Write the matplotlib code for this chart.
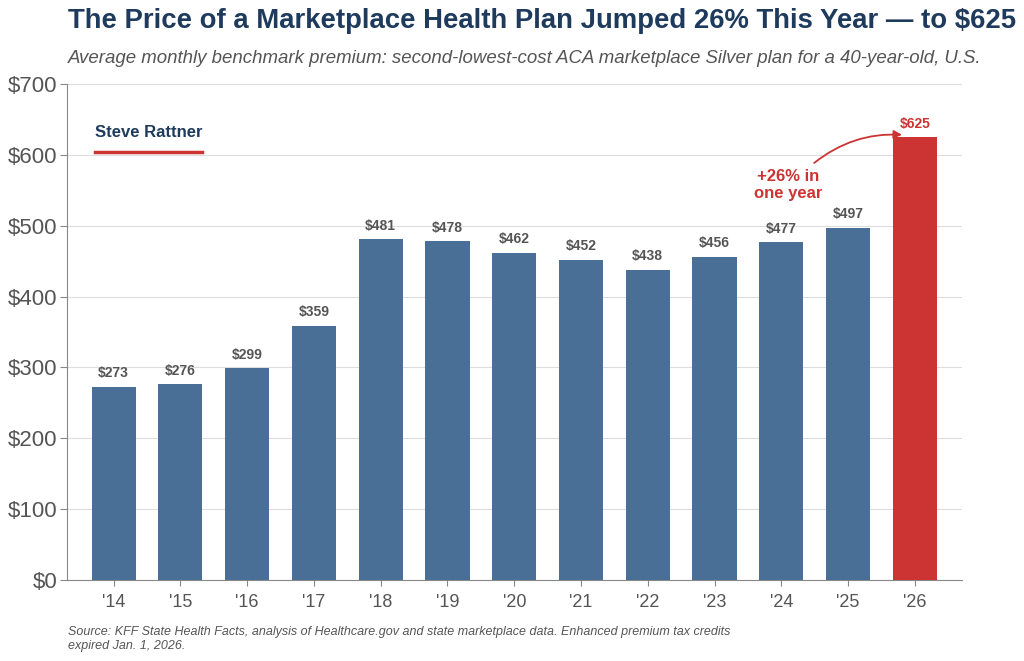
import matplotlib.pyplot as plt

plt.rcParams['font.family'] = ['Liberation Sans', 'DejaVu Sans']

years = ["'14", "'15", "'16", "'17", "'18", "'19", "'20", "'21", "'22", "'23", "'24", "'25", "'26"]
premiums = [273, 276, 299, 359, 481, 478, 462, 452, 438, 456, 477, 497, 625]

NAVY = '#1e3a5c'
BLUE = '#4a6f96'
RED = '#cc3333'
GRAY = '#555555'

fig = plt.figure(figsize=(10.24, 6.61), dpi=100)
ax = fig.add_axes([0.0654, 0.1225, 0.8736, 0.7505])

x = list(range(len(years)))
colors = [BLUE] * (len(years) - 1) + [RED]
ax.bar(x, premiums, width=0.66, color=colors, zorder=3)

for i, v in enumerate(premiums):
    c = RED if i == len(premiums) - 1 else GRAY
    ax.text(i, v + 9, f'${v}', ha='center', va='bottom', fontsize=10,
            fontweight='bold', color=c, zorder=4)

ax.set_xlim(-0.7, 12.7)
ax.set_ylim(0, 700)
ax.set_yticks(range(0, 701, 100))
ax.set_yticklabels([f'${t}' for t in range(0, 701, 100)], fontsize=16, color=GRAY)
ax.set_xticks(x)
ax.set_xticklabels(years, fontsize=13, color=GRAY)
ax.tick_params(axis='y', length=5, color='#888888', pad=2)
ax.tick_params(axis='x', length=4, color='#888888', pad=6)
ax.grid(axis='y', color='#dddddd', linewidth=0.8, zorder=0)
for s in ['top', 'right']:
    ax.spines[s].set_visible(False)
ax.spines['left'].set_color('#888888')
ax.spines['bottom'].set_color('#888888')

# annotation
ax.text(10.1, 557, '+26% in\none year', ha='center', va='center', fontsize=12,
        fontweight='bold', color=RED, linespacing=1.15)
ax.annotate('', xy=(11.85, 628), xytext=(10.46, 586),
            arrowprops=dict(arrowstyle='-|>', color=RED, lw=1.3,
                            connectionstyle='arc3,rad=-0.2', mutation_scale=12))

# branding
fig.text(0.0928, 0.800, 'Steve Rattner', fontsize=12, fontweight='bold', color=NAVY,
         ha='left', va='center')
fig.add_artist(plt.Line2D([0.0928, 0.197], [0.770, 0.770], color=RED, lw=2.5,
                          transform=fig.transFigure))

fig.text(0.066, 0.968, 'The Price of a Marketplace Health Plan Jumped 26% This Year \u2014 to $625',
         fontsize=19.8, fontweight='bold', color=NAVY, ha='left', va='center')
fig.text(0.066, 0.912, 'Average monthly benchmark premium: second-lowest-cost ACA marketplace Silver plan for a 40-year-old, U.S.',
         fontsize=13.4, style='italic', color=GRAY, ha='left', va='center')
fig.text(0.066, 0.033, 'Source: KFF State Health Facts, analysis of Healthcare.gov and state marketplace data. Enhanced premium tax credits\nexpired Jan. 1, 2026.',
         fontsize=9, style='italic', color=GRAY, ha='left', va='center', linespacing=1.2)

fig.savefig('out.png', dpi=100)
